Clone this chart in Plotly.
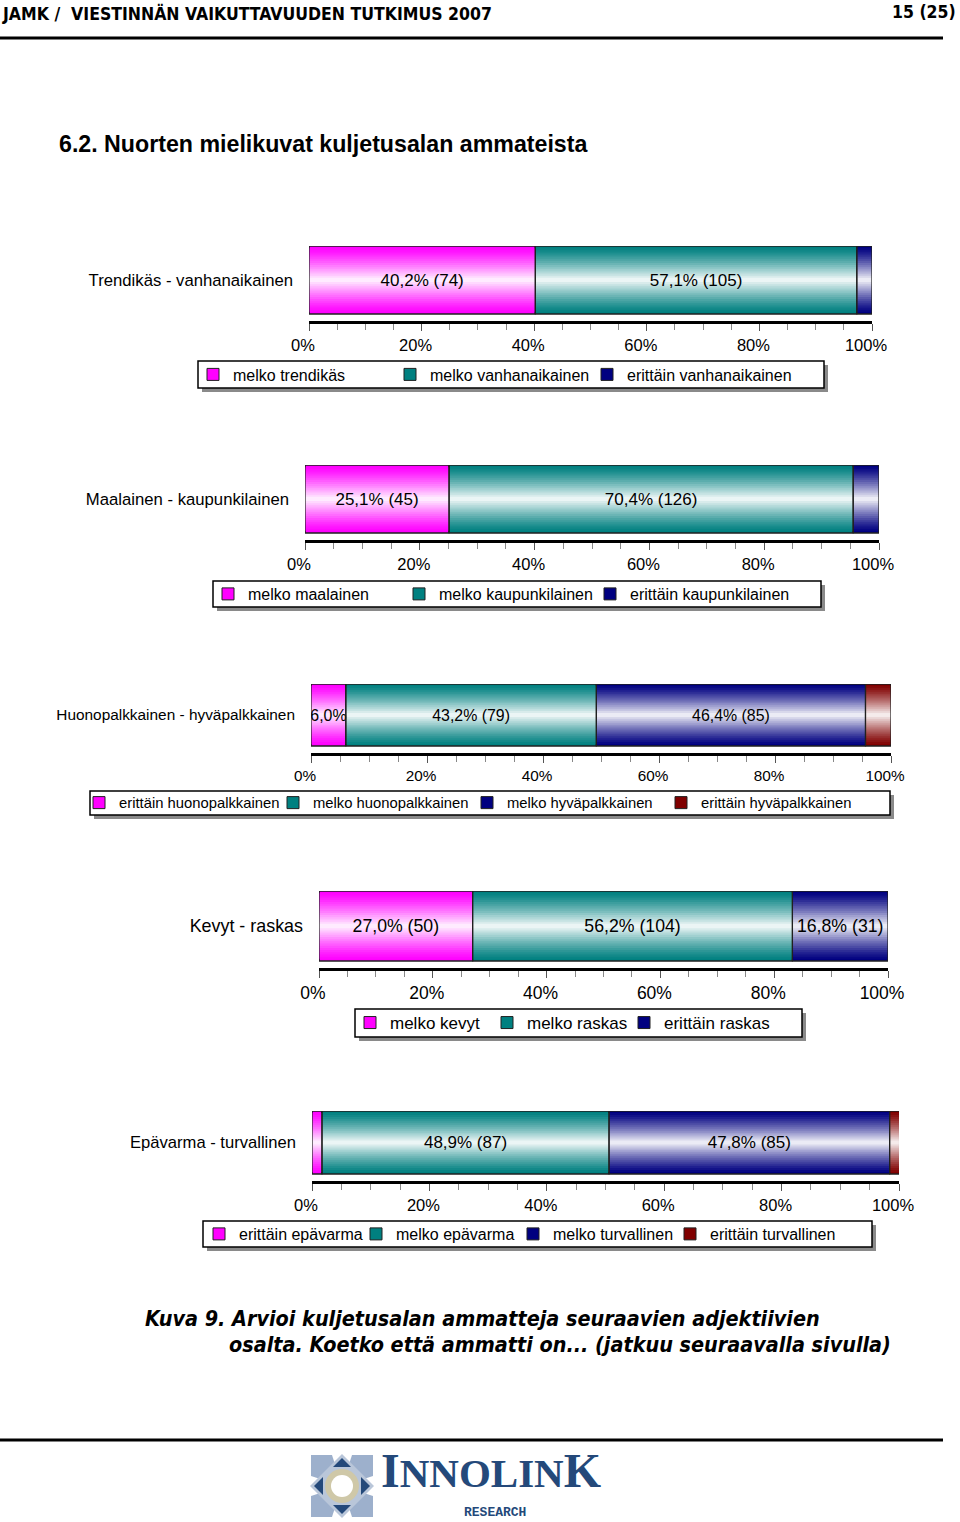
import plotly.graph_objects as go

W, H = 960, 1522
FONT = "Liberation Sans, Arial, sans-serif"

# ---------------- data ----------------
tick_vals = [0, 20, 40, 60, 80, 100]
tick_text = ["0%", "20%", "40%", "60%", "80%", "100%"]

cat1 = "Trendikäs - vanhanaikainen"
series1 = ["melko trendikäs", "melko vanhanaikainen", "erittäin vanhanaikainen"]
pct1 = [40.2, 57.1, 2.7]
labels1 = ["40,2% (74)", "57,1% (105)", ""]

cat2 = "Maalainen - kaupunkilainen"
series2 = ["melko maalainen", "melko kaupunkilainen", "erittäin kaupunkilainen"]
pct2 = [25.1, 70.4, 4.5]
labels2 = ["25,1% (45)", "70,4% (126)", ""]

cat3 = "Huonopalkkainen - hyväpalkkainen"
series3 = ["erittäin huonopalkkainen", "melko huonopalkkainen", "melko hyväpalkkainen", "erittäin hyväpalkkainen"]
pct3 = [6.0, 43.2, 46.4, 4.4]
labels3 = ["6,0%", "43,2% (79)", "46,4% (85)", ""]

cat4 = "Kevyt - raskas"
series4 = ["melko kevyt", "melko raskas", "erittäin raskas"]
pct4 = [27.0, 56.2, 16.8]
labels4 = ["27,0% (50)", "56,2% (104)", "16,8% (31)"]

cat5 = "Epävarma - turvallinen"
series5 = ["erittäin epävarma", "melko epävarma", "melko turvallinen", "erittäin turvallinen"]
pct5 = [1.7, 48.9, 47.8, 1.7]
labels5 = ["", "48,9% (87)", "47,8% (85)", ""]

# ---------------- styles ----------------
MAG = (255, 0, 255)
TEAL = (0, 128, 128)
NAVY = (0, 0, 128)
MAROON = (128, 0, 0)

charts = [
    dict(cat=cat1, series=series1, pct=pct1, labels=labels1, colors=[MAG, TEAL, NAVY],
         x0=309, x1=872, top=246, bot=314, axis=322, fs=16, bfs=17, cfs=16.7,
         box=(198, 361, 824, 388), ew=152, lx=193, pad=True),
    dict(cat=cat2, series=series2, pct=pct2, labels=labels2, colors=[MAG, TEAL, NAVY],
         x0=305, x1=879, top=465, bot=533, axis=541, fs=16, bfs=17, cfs=16.7,
         box=(213, 581, 821, 607), ew=146, lx=208, pad=True),
    dict(cat=cat3, series=series3, pct=pct3, labels=labels3, colors=[MAG, TEAL, NAVY, MAROON],
         x0=311, x1=891, top=684, bot=746, axis=754, fs=14.8, bfs=15.9, cfs=15.4,
         box=(90, 791, 890, 815), ew=149, lx=79, pad=False),
    dict(cat=cat4, series=series4, pct=pct4, labels=labels4, colors=[MAG, TEAL, NAVY],
         x0=319, x1=888, top=891, bot=961, axis=969, fs=17, bfs=17.7, cfs=17.9,
         box=(355, 1009, 802, 1037), ew=92, lx=350, pad=True),
    dict(cat=cat5, series=series5, pct=pct5, labels=labels5, colors=[MAG, TEAL, NAVY, MAROON],
         x0=312, x1=899, top=1111, bot=1174, axis=1182, fs=16, bfs=17, cfs=16.6,
         box=(203, 1221, 872, 1247), ew=112, lx=199, pad=True),
]


def rgb(c):
    return f"rgb({c[0]},{c[1]},{c[2]})"


def mix(c, s):
    return "rgb(%d,%d,%d)" % tuple(round(v + (255 - v) * s) for v in c)


NL = 16  # gradient layers
fig = go.Figure()
layout = dict(width=W, height=H, margin=dict(l=0, r=0, t=0, b=0, pad=0, autoexpand=False),
              paper_bgcolor="white", plot_bgcolor="rgba(0,0,0,0)",
              barmode="overlay", font=dict(family=FONT, color="black"),
              shapes=[], annotations=[])

for ci, ch in enumerate(charts):
    sfx = "" if ci == 0 else str(ci + 1)
    xa, ya = "x" + sfx, "y" + sfx
    leg = "legend" + sfx
    vals = ch["pct"]
    bases = []
    acc = 0.0
    for v in vals:
        bases.append(acc)
        acc += v
    n = len(vals)
    cats = [ch["cat"]] * n

    # base (full colour) layer, one trace per series for the legend
    for j in range(n):
        fig.add_trace(go.Bar(
            x=[vals[j]], y=[ch["cat"]], base=[bases[j]], orientation="h", width=1,
            marker=dict(color=rgb(ch["colors"][j]), line=dict(color="#202020", width=1)),
            name=ch["series"][j], legend=leg, showlegend=True,
            xaxis=xa, yaxis=ya, hoverinfo="skip"))
    if ch["pad"]:
        # invisible trailing legend entry, keeps the last legend text from being clipped
        fig.add_trace(go.Bar(
            x=[0], y=[ch["cat"]], base=[0], orientation="h", width=1,
            marker=dict(color="rgba(0,0,0,0)", line=dict(width=0)),
            name=" ", legend=leg, showlegend=True,
            xaxis=xa, yaxis=ya, hoverinfo="skip"))
    # gradient layers
    for k in range(1, NL):
        w = 1 - k / NL
        s = (1 - w) ** 1.25
        fig.add_trace(go.Bar(
            x=vals, y=cats, base=bases, orientation="h", width=w,
            marker=dict(color=[mix(c, s) for c in ch["colors"]], line=dict(width=0)),
            showlegend=False, xaxis=xa, yaxis=ya, hoverinfo="skip"))
    # outline + labels
    fig.add_trace(go.Bar(
        x=vals, y=cats, base=bases, orientation="h", width=1,
        marker=dict(color="rgba(0,0,0,0)", line=dict(color="#202020", width=1.2)),
        text=ch["labels"], textposition="inside", insidetextanchor="middle", textangle=0,
        constraintext="none", textfont=dict(size=ch["bfs"], color="black", family=FONT),
        showlegend=False, xaxis=xa, yaxis=ya, hoverinfo="skip"))

    L = ch["axis"] - 1 - ch["top"]
    Hb = ch["bot"] - ch["top"]
    layout["xaxis" + sfx] = dict(
        domain=[ch["x0"] / W, ch["x1"] / W], range=[0, 100], anchor=ya,
        tickmode="array", tickvals=tick_vals, ticktext=tick_text,
        showline=True, linewidth=3, linecolor="black",
        ticks="outside", ticklen=7, tickwidth=1, tickcolor="#555",
        minor=dict(dtick=5, tick0=0, ticks="outside", ticklen=6, tickwidth=1, tickcolor="#888"),
        showgrid=False, zeroline=False,
        tickfont=dict(size=ch["fs"] + 0.5, color="black", family=FONT),
        ticklabelshift=-6, ticklabelstandoff=0, fixedrange=True, automargin=False)
    layout["yaxis" + sfx] = dict(
        domain=[1 - (ch["axis"] - 1) / H, 1 - ch["top"] / H],
        range=[0.5 - L / Hb, 0.5], anchor=xa, type="category",
        showline=False, showgrid=False, zeroline=False, ticks="",
        ticklabelstandoff=15, tickfont=dict(size=ch["cfs"], color="black", family=FONT),
        fixedrange=True, automargin=False)

    bx0, by0, bx1, by1 = ch["box"]
    layout["shapes"].append(dict(type="rect", xref="paper", yref="paper", layer="below",
                                 x0=(bx0 + 4) / W, x1=(bx1 + 4) / W, y0=1 - (by1 + 4) / H, y1=1 - (by0 + 4) / H,
                                 fillcolor="#8a8a8a", line=dict(width=0)))
    layout["shapes"].append(dict(type="rect", xref="paper", yref="paper", layer="below",
                                 x0=bx0 / W, x1=bx1 / W, y0=1 - by1 / H, y1=1 - by0 / H,
                                 fillcolor="white", line=dict(color="black", width=1.5)))
    layout[leg] = dict(orientation="h", x=ch["lx"] / W, y=1 - (by0 + by1) / 2 / H,
                       xanchor="left", yanchor="middle", bgcolor="rgba(0,0,0,0)",
                       borderwidth=0, entrywidth=ch["ew"], entrywidthmode="pixels",
                       font=dict(size=ch["fs"], color="black", family=FONT),
                       traceorder="normal", itemclick=False, itemdoubleclick=False)

# ---------------- page decorations ----------------
NARROW = "Liberation Sans Narrow, Arial Narrow, DejaVu Sans Condensed, sans-serif"
ann = layout["annotations"]
ann.append(dict(text="<b>JAMK /  VIESTINNÄN VAIKUTTAVUUDEN TUTKIMUS 2007</b>", xref="paper", yref="paper",
                x=0, y=1 - 13 / H, xanchor="left", yanchor="middle", showarrow=False,
                font=dict(family=NARROW, size=17.5, color="black")))
ann.append(dict(text="<b>15 (25)</b>", xref="paper", yref="paper",
                x=958 / W, y=1 - 12 / H, xanchor="right", yanchor="middle", showarrow=False,
                font=dict(family=NARROW, size=17.5, color="black")))
ann.append(dict(text="<b>6.2. Nuorten mielikuvat kuljetusalan ammateista</b>", xref="paper", yref="paper",
                x=57 / W, y=1 - 144 / H, xanchor="left", yanchor="middle", showarrow=False,
                font=dict(family=FONT, size=23.2, color="black")))
ann.append(dict(text="<b><i>Kuva 9. Arvioi kuljetusalan ammatteja seuraavien adjektiivien</i></b>", xref="paper", yref="paper",
                x=143 / W, y=1 - 1318 / H, xanchor="left", yanchor="middle", showarrow=False,
                font=dict(family=NARROW, size=21.4, color="black")))
ann.append(dict(text="<b><i>osalta. Koetko että ammatti on... (jatkuu seuraavalla sivulla)</i></b>", xref="paper", yref="paper",
                x=227 / W, y=1 - 1344 / H, xanchor="left", yanchor="middle", showarrow=False,
                font=dict(family=NARROW, size=21.4, color="black")))

shp = layout["shapes"]
shp.append(dict(type="line", xref="paper", yref="paper", x0=0, x1=943 / W, y0=1 - 38 / H, y1=1 - 38 / H,
                line=dict(color="black", width=3)))
shp.append(dict(type="line", xref="paper", yref="paper", x0=0, x1=943 / W, y0=1 - 1440 / H, y1=1 - 1440 / H,
                line=dict(color="black", width=3)))


def P(x, y):
    return f"{x / W:.5f},{1 - y / H:.5f}"


cx, cy = 342, 1486
LB = "#9db0cc"
DB = "#24497a"
# light arrows in the logo
for dx, dy in [(-1, -1), (1, -1), (1, 1), (-1, 1)]:
    tip = (cx + dx * 31, cy + dy * 31)
    a = (cx + dx * 31, cy + dy * 10)
    b = (cx + dx * 10, cy + dy * 31)
    shp.append(dict(type="path", xref="paper", yref="paper",
                    path=f"M{P(*tip)} L{P(*a)} L{P(cx, cy)} L{P(*b)} Z",
                    fillcolor=LB, line=dict(width=0)))
shp.append(dict(type="path", xref="paper", yref="paper",
                path=f"M{P(cx, cy - 32)} L{P(cx + 32, cy)} L{P(cx, cy + 32)} L{P(cx - 32, cy)} Z",
                fillcolor="#b9c6d9", line=dict(width=0)))
shp.append(dict(type="circle", xref="paper", yref="paper",
                x0=(cx - 17) / W, x1=(cx + 17) / W, y0=1 - (cy + 17) / H, y1=1 - (cy - 17) / H,
                fillcolor="#cfc8a8", line=dict(width=0)))
shp.append(dict(type="circle", xref="paper", yref="paper",
                x0=(cx - 11) / W, x1=(cx + 11) / W, y0=1 - (cy + 11) / H, y1=1 - (cy - 11) / H,
                fillcolor="white", line=dict(width=0)))
for (ax, ay, bx, by, tx, ty) in [
    (cx - 9, cy - 19, cx + 9, cy - 19, cx, cy - 28),
    (cx - 9, cy + 19, cx + 9, cy + 19, cx, cy + 28),
    (cx - 19, cy - 9, cx - 19, cy + 9, cx - 28, cy),
    (cx + 19, cy - 9, cx + 19, cy + 9, cx + 28, cy),
]:
    shp.append(dict(type="path", xref="paper", yref="paper",
                    path=f"M{P(ax, ay)} L{P(bx, by)} L{P(tx, ty)} Z",
                    fillcolor=DB, line=dict(width=0)))

ann.append(dict(text="<b>I<span style='font-size:41px'>NNOLIN</span>K</b>", xref="paper", yref="paper",
                x=379 / W, y=1 - 1499 / H, xanchor="left", yanchor="bottom", showarrow=False,
                font=dict(family="Liberation Serif, serif", size=48, color=DB)))
ann.append(dict(text="<b>RESEARCH</b>", xref="paper", yref="paper",
                x=495 / W, y=1 - 1512 / H, xanchor="center", yanchor="middle", showarrow=False,
                font=dict(family="Liberation Mono, monospace", size=13, color=DB)))

fig.update_layout(**layout)
fig.write_html("out.html", config={"displayModeBar": False},
               post_script="document.body.style.margin='0';document.body.style.overflow='hidden';")
